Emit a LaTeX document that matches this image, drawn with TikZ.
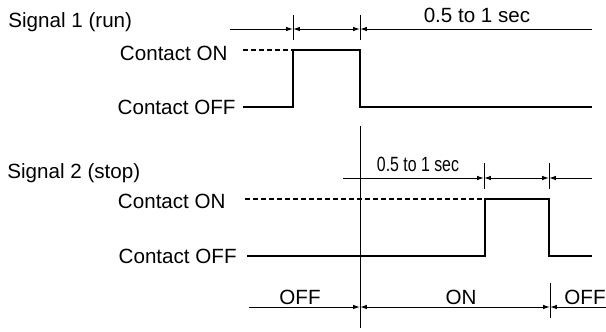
\documentclass[tikz,border=0pt]{standalone}
\usepackage{fontspec}
\setmainfont{Liberation Sans}
\usepackage{graphicx}
\usetikzlibrary{arrows.meta,calc}

\begin{document}
\begin{tikzpicture}[x=0.5pt, y=-0.5pt,
      wave/.style={line width=0.6pt},
      dashwave/.style={line width=0.6pt, dash pattern=on 2.3pt off 1.7pt},
      dim/.style={line width=0.5pt, -{Latex[length=3.4pt,width=2.2pt]}},
      dimboth/.style={line width=0.5pt, {Latex[length=3.4pt,width=2.2pt]}-{Latex[length=3.4pt,width=2.2pt]}},
      bar/.style={line width=0.5pt},
      lbl/.style={font=\fontsize{10.3}{12}\selectfont, inner sep=0pt}
    ]
    \useasboundingbox (0,0) rectangle (606,332);

    \node[lbl, anchor=west] (sig1) at (8,22) {Signal 1 (run)};
    \node[lbl, anchor=west] (sig2) at (7,173) {Signal 2 (stop)};
    \foreach \n/\x/\y/\txt in {on1/228/53/{Contact ON},off1/236/107/{Contact OFF},on2/226/201/{Contact ON},off2/237/256/{Contact OFF}} {
      \node[lbl, anchor=east] (\n) at (\x,\y) {\txt};
    }

    \coordinate (s1g) at (243,50);
    \coordinate (s1a) at (243,107);
    \coordinate (s1b) at (293,107);
    \coordinate (s1c) at (293,50);
    \coordinate (s1d) at (360,50);
    \coordinate (s1e) at (360,107);
    \coordinate (s1f) at (592,107);
    \draw[dashwave] (s1g) -- (s1c);
    \draw[wave] (s1a) -- (s1b) -- (s1c) -- (s1d) -- (s1e) -- (s1f);

    \coordinate (s2g) at (245,199);
    \coordinate (s2a) at (247,256);
    \coordinate (s2b) at (485,256);
    \coordinate (s2c) at (485,199);
    \coordinate (s2d) at (549,199);
    \coordinate (s2e) at (549,256);
    \coordinate (s2f) at (592,256);
    \draw[dashwave] (s2g) -- (s2c);
    \draw[wave] (s2a) -- (s2b) -- (s2c) -- (s2d) -- (s2e) -- (s2f);

    \coordinate (v0) at (360,126);
    \coordinate (v1) at (360,328);
    \draw[bar] (v0) -- (v1);

    \coordinate (a0) at (230,29);
    \coordinate (k1) at (293,29);
    \coordinate (k2) at (360,29);
    \coordinate (a3) at (592,29);
    \coordinate (b0) at (343,178);
    \coordinate (k3) at (484,178);
    \coordinate (k4) at (549,178);
    \coordinate (b3) at (592,178);
    \coordinate (c0) at (249,307);
    \coordinate (k5) at (360,307);
    \coordinate (k6) at (550,307);
    \coordinate (c3) at (606,307);

    \foreach \k/\up/\dn in {k1/14/11,k2/14/11,k3/15/11,k4/15/11,k6/24/11} {
      \draw[bar] ($(\k)+(0,-\up)$) -- ($(\k)+(0,\dn)$);
    }

    \draw[dim] (a0) -- (k1);
    \draw[dimboth] (k1) -- (k2);
    \draw[dim] (a3) -- (k2);
    \draw[dim] (b0) -- (k3);
    \draw[dimboth] (k3) -- (k4);
    \draw[dim] (b3) -- (k4);
    \draw[dim] (c0) -- (k5);
    \draw[dimboth] (k5) -- (k6);
    \draw[dim] (c3) -- (k6);

    \node[lbl] (t1) at (477,15.5) {0.5 to 1 sec};
    \node[lbl] (t2) at (418,164.5) {\scalebox{0.77}[1]{0.5 to 1 sec}};
    \node[lbl] (st1) at (300,297) {OFF};
    \node[lbl] (st2) at (461,297) {ON};
    \node[lbl] (st3) at (585,297) {OFF};
  \end{tikzpicture}
\end{document}
